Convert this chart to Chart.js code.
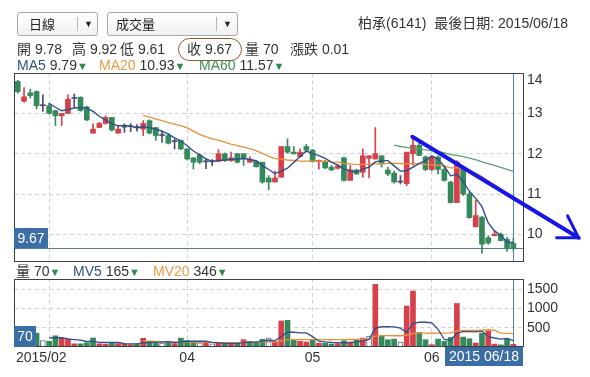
<!DOCTYPE html>
<html lang="zh-Hant">
<head>
<meta charset="utf-8">
<title>柏承(6141) 日線</title>
<script src="https://cdn.jsdelivr.net/npm/chart.js@4.4.1/dist/chart.umd.min.js"></script>
<style>
  html,body{margin:0;padding:0;background:#fff;}
  body{font-family:"Liberation Sans",Arial,"Noto Sans CJK TC",sans-serif;font-size:14px;color:#333;}
  #wrap{position:relative;width:590px;height:377px;overflow:hidden;}
  #wrap canvas{position:absolute;left:0;top:0;}
  .t{position:absolute;white-space:nowrap;line-height:16px;}
  .sel{position:absolute;top:12px;height:24px;box-sizing:border-box;border:1px solid #a8a8a8;border-radius:3px;background:linear-gradient(#ffffff,#f1f1f1);}
  .sel span{position:absolute;top:4px;font-size:13px;line-height:15px;color:#222;}
  .sel i{position:absolute;top:4px;width:1px;height:14px;background:#b5b5b5;}
  .sel b{position:absolute;top:5px;font-size:9px;line-height:12px;color:#222;font-weight:normal;}
  .ma5{color:#30557a}.ma20{color:#eb9a45}.ma60{color:#3f8f55}
  .dn{color:#2f8a4e;font-size:11px}
  #ring{position:absolute;left:178px;top:38px;width:64px;height:23px;box-sizing:border-box;border:1px solid #8a5a2c;border-radius:12px;}
</style>
</head>
<body>
<div id="wrap">
  <canvas id="priceChart" width="590" height="377"></canvas>
  <canvas id="volChart" width="590" height="377"></canvas>

  <div class="sel" style="left:17px;width:81px"><span style="left:11px">日線</span><i style="left:59px"></i><b style="left:66px">▼</b></div>
  <div class="sel" style="left:107px;width:131px"><span style="left:8px">成交量</span><i style="left:108px"></i><b style="left:115px">▼</b></div>
  <div class="t" style="left:358px;top:15px">柏承(6141)&nbsp;&nbsp;最後日期: 2015/06/18</div>

  <div id="ring"></div>
  <div class="t" style="left:17px;top:41px">開 9.78</div>
  <div class="t" style="left:72px;top:41px">高 9.92</div>
  <div class="t" style="left:120px;top:41px">低 9.61</div>
  <div class="t" style="left:187px;top:41px">收 9.67</div>
  <div class="t" style="left:245px;top:41px">量 70</div>
  <div class="t" style="left:290px;top:41px">漲跌 0.01</div>

  <div class="t" style="left:17px;top:57px"><span class="ma5">MA5</span> 9.79<span class="dn">▼</span></div>
  <div class="t" style="left:99px;top:57px"><span class="ma20">MA20</span> 10.93<span class="dn">▼</span></div>
  <div class="t" style="left:199px;top:57px"><span class="ma60">MA60</span> 11.57<span class="dn">▼</span></div>

  <div class="t" style="left:16px;top:263px">量 70<span class="dn">▼</span></div>
  <div class="t" style="left:73px;top:263px"><span class="ma5">MV5</span> 165<span class="dn">▼</span></div>
  <div class="t" style="left:153px;top:263px"><span class="ma20">MV20</span> 346<span class="dn">▼</span></div>
</div>

<script>
/* ── Datos ── */
const opens = [13.79,13.30,13.51,13.54,13.19,13.19,13.07,12.94,13.00,13.37,
               13.40,13.16,12.51,12.65,12.75,12.90,12.51,12.66,12.67,12.65,
               12.61,12.82,12.65,12.45,12.45,12.30,12.33,12.12,11.90,11.97,
               11.80,11.80,11.81,12.00,11.83,12.00,12.00,11.79,11.81,11.79,
               11.40,11.30,11.42,12.18,12.04,11.93,12.18,12.09,11.81,11.81,
               11.67,11.64,11.90,11.34,11.60,11.54,11.89,11.87,11.95,11.60,
               11.52,11.30,11.26,12.00,12.21,11.92,11.61,11.92,11.61,11.30,
               10.79,11.63,11.00,10.19,10.43,9.92,9.97,10.01,9.88,9.78];
const highs = [13.82,13.64,13.60,13.56,13.46,13.25,13.07,13.00,13.46,13.48,
               13.41,13.18,12.74,12.78,12.94,12.90,12.70,12.74,12.75,12.72,
               12.82,12.84,12.65,12.56,12.50,12.37,12.34,12.12,11.90,12.00,
               11.87,11.86,12.10,12.02,12.04,12.01,12.00,11.93,11.82,11.79,
               11.46,11.57,12.18,12.37,12.18,12.12,12.23,12.11,11.85,11.84,
               11.71,11.74,11.92,11.71,11.62,12.12,11.95,12.65,11.95,11.67,
               11.57,11.46,12.04,12.42,12.28,11.95,11.95,11.95,11.71,11.32,
               11.83,11.68,11.05,10.85,10.45,9.97,10.08,10.04,9.93,9.92];
const lows  = [13.50,13.28,13.38,13.11,13.05,12.98,12.70,12.70,13.00,13.15,
               13.05,12.82,12.51,12.65,12.73,12.56,12.51,12.53,12.55,12.56,
               12.45,12.49,12.33,12.28,12.24,12.12,12.10,11.85,11.62,11.75,
               11.63,11.70,11.80,11.81,11.81,11.77,11.71,11.79,11.67,11.27,
               11.11,11.30,11.42,12.01,11.99,11.91,12.04,11.79,11.62,11.63,
               11.58,11.62,11.32,11.34,11.49,11.42,11.40,11.87,11.67,11.46,
               11.27,11.25,11.21,11.72,11.95,11.58,11.58,11.50,11.32,10.78,
               10.79,10.97,10.40,10.19,9.54,9.76,9.97,9.84,9.58,9.61];
const closes = [13.54,13.41,13.44,13.19,13.19,13.00,12.94,13.00,13.35,13.37,
                13.07,12.84,12.61,12.75,12.90,12.59,12.61,12.66,12.67,12.65,
                12.75,12.51,12.45,12.45,12.26,12.30,12.12,11.87,11.79,11.79,
                11.80,11.80,12.00,11.83,11.90,11.79,11.90,11.87,11.68,11.30,
                11.30,11.40,12.18,12.04,12.00,12.04,12.09,11.81,11.83,11.65,
                11.60,11.70,11.34,11.60,11.50,11.95,11.95,12.00,11.75,11.50,
                11.30,11.30,12.04,12.21,11.96,11.61,11.92,11.61,11.34,10.79,
                11.80,11.00,10.42,10.47,9.76,9.79,10.01,9.85,9.66,9.67];
const volumes = [420,260,240,358,167,150,290,233,208,83,
                 83,108,233,83,80,100,90,70,60,80,
                 225,150,110,100,120,90,230,170,145,110,
                 100,80,100,90,85,110,188,145,110,200,
                 230,130,674,690,188,145,130,188,100,100,
                 80,90,162,130,188,230,282,1620,298,188,
                 205,130,1060,1450,376,188,60,205,145,248,
                 1126,256,213,102,358,418,75,55,207,70];

// eje X: índice de sesión; inicios de mes (03, 04, 05, 06)
const monthStarts = [5, 27, 47, 66];
const monthNames  = ['03', '04', '05', '06'];
const firstMonth  = '2015/02';
const lastDateLabel = '2015 06/18';
const priceTicks = [10, 11, 12, 13, 14];
const volTicks   = [500, 1000, 1500];

/* ── Helpers ── */
const RED = '#d6404b', GREEN = '#36895a', CROSS = '#4b4d6b';
const FONT = '"Liberation Sans", Arial, "Noto Sans CJK TC", sans-serif';
const lastIdx = closes.length - 1;

// promedios móviles tal como los traza el gráfico (a partir de la sesión n)
function movingAvg(src, n){
  return src.map(function(_, i){
    if(i < n) return null;
    let s = 0;
    for(let k = i - n + 1; k <= i; k++) s += src[k];
    return s / n;
  });
}
const pts = arr => arr.map((v, i) => ({x: i, y: v}));

const candleColor = closes.map((c, i) => c > opens[i] ? RED : (c < opens[i] ? GREEN : CROSS));
const volState = closes.map((c, i) => {
  const prev = i ? closes[i-1] : opens[0];
  return c > prev ? 'up' : (c < prev ? 'down' : 'flat');
});

function frame(ctx, a){
  ctx.save();
  ctx.strokeStyle = '#3a3f45'; ctx.lineWidth = 1;
  ctx.strokeRect(a.left + 0.5, a.top + 0.5, a.right - a.left - 1, a.bottom - a.top - 1);
  ctx.restore();
}
function crossV(ctx, a, x){
  const px = Math.round(x.getPixelForValue(lastIdx)) + 0.5;
  ctx.save();
  ctx.strokeStyle = '#5383a8'; ctx.lineWidth = 1;
  ctx.beginPath(); ctx.moveTo(px, a.top); ctx.lineTo(px, a.bottom); ctx.stroke();
  ctx.restore();
}
function tag(ctx, txt, left, top, w, h){
  ctx.save();
  ctx.fillStyle = '#3b6da6';
  ctx.fillRect(left, top, w, h);
  ctx.fillStyle = '#fff';
  ctx.font = '14px ' + FONT;
  ctx.textAlign = 'center'; ctx.textBaseline = 'middle';
  ctx.fillText(txt, left + w/2, top + h/2 + 1);
  ctx.restore();
}

/* ── Plugins ── */
const pricePane = {
  id: 'pricePane',
  beforeDatasetsDraw(chart){
    const {ctx, chartArea: a, scales: {x, y}} = chart;
    const py = Math.round(y.getPixelForValue(closes[lastIdx])) + 0.5;
    ctx.save();
    ctx.strokeStyle = '#4f7ea5'; ctx.lineWidth = 1;
    ctx.beginPath(); ctx.moveTo(a.left, py); ctx.lineTo(a.right, py); ctx.stroke();
    ctx.restore();
    crossV(ctx, a, x);
  },
  afterDraw(chart){
    const {ctx, chartArea: a, scales: {x, y}} = chart;
    frame(ctx, a);
    const py = Math.round(y.getPixelForValue(closes[lastIdx]));
    tag(ctx, closes[lastIdx].toFixed(2), a.left, py - 20, 34, 20);

    // etiqueta superior del eje (ajustada dentro del panel)
    ctx.save();
    ctx.fillStyle = '#333'; ctx.font = '14px ' + FONT;
    ctx.textAlign = 'left'; ctx.textBaseline = 'middle';
    ctx.fillText(String(priceTicks[priceTicks.length-1]), a.right + 3, a.top + 7);
    ctx.restore();

    // flecha de tendencia dibujada a mano
    const x0 = x.getPixelForValue(62.9), y0 = y.getPixelForValue(12.42);
    const x1 = x.getPixelForValue(89.4), y1 = y.getPixelForValue(9.92);
    ctx.save();
    ctx.strokeStyle = '#1616e6'; ctx.lineCap = 'round';
    ctx.lineWidth = 4;
    ctx.beginPath(); ctx.moveTo(x0, y0); ctx.lineTo(x1, y1); ctx.stroke();
    ctx.lineWidth = 3;
    ctx.beginPath();
    ctx.moveTo(x1 - 11, y1 - 22); ctx.lineTo(x1, y1); ctx.lineTo(x1 - 22, y1);
    ctx.stroke();
    ctx.restore();
  }
};

const volPane = {
  id: 'volPane',
  beforeDatasetsDraw(chart){
    crossV(chart.ctx, chart.chartArea, chart.scales.x);
  },
  afterDraw(chart){
    const {ctx, chartArea: a, scales: {x}} = chart;
    frame(ctx, a);
    tag(ctx, String(volumes[lastIdx]), a.left, a.bottom - 21, 22, 21);

    // etiquetas de meses
    ctx.save();
    ctx.fillStyle = '#333'; ctx.font = '14px ' + FONT;
    ctx.textBaseline = 'middle';
    const ly = a.bottom + 11;
    ctx.textAlign = 'left';
    ctx.fillText(firstMonth, a.left + 2, ly);
    const firstRight = a.left + 2 + ctx.measureText(firstMonth).width;
    ctx.textAlign = 'center';
    monthStarts.forEach(function(v, k){
      const px = x.getPixelForValue(v);
      const w = ctx.measureText(monthNames[k]).width;
      if(px - w/2 > firstRight + 4) ctx.fillText(monthNames[k], px, ly);
    });
    ctx.restore();

    // fecha de la última sesión
    const cx = x.getPixelForValue(lastIdx), bw = 78;
    const left = Math.min(cx - bw/2, a.right - 1 - bw);
    tag(ctx, lastDateLabel, left, a.bottom, bw, 19);
  }
};

/* ── Config común ── */
Chart.defaults.font.family = FONT;
function xScale(){
  return {
    type: 'linear', min: -0.6, max: 80.7, offset: false,
    afterBuildTicks: s => { s.ticks = monthStarts.map(v => ({value: v})); },
    afterFit: s => { s.height = 0; },
    ticks: {display: false},
    grid: {color: '#d2d2d2', drawTicks: false, offset: false},
    border: {display: false, dash: [4, 3]}
  };
}
function yScale(min, max, ticks, hideTop){
  return {
    position: 'right', min: min, max: max,
    afterBuildTicks: s => { s.ticks = ticks.map(v => ({value: v})); },
    afterFit: s => { s.width = 44; },
    ticks: {
      color: '#333', font: {size: 14}, padding: 3,
      callback: v => (hideTop && v === ticks[ticks.length-1]) ? '' : String(v)
    },
    grid: {color: '#d2d2d2', drawTicks: false},
    border: {display: false, dash: [4, 3]}
  };
}
const baseOpts = {
  responsive: false, animation: false, events: [],
  plugins: {legend: {display: false}, tooltip: {enabled: false}}
};

/* ── Precio ── */
new Chart(document.getElementById('priceChart'), {
  type: 'bar',
  data: {
    datasets: [
      {type: 'line', data: pts(movingAvg(closes, 5)),  borderColor: '#2d4f8c', borderWidth: 1.4, pointRadius: 0, order: 0},
      {type: 'line', data: pts(movingAvg(closes, 20)), borderColor: '#e8913a', borderWidth: 1.3, pointRadius: 0, order: 0},
      {type: 'line', data: pts(movingAvg(closes, 60)), borderColor: '#5f9c70', borderWidth: 1.3, pointRadius: 0, order: 0},
      {data: opens.map((o, i) => ({x: i, y: [o, closes[i]]})), backgroundColor: candleColor,
       barThickness: 5, minBarLength: 1, grouped: false, order: 1},
      {data: lows.map((l, i) => ({x: i, y: [l, highs[i]]})), backgroundColor: candleColor,
       barThickness: 1, grouped: false, order: 2}
    ]
  },
  options: Object.assign({}, baseOpts, {
    layout: {padding: {left: 14, right: 22, top: 73, bottom: 115}},
    scales: {x: xScale(), y: yScale(9.32, 14, priceTicks, true)}
  }),
  plugins: [pricePane]
});

/* ── Volumen ── */
new Chart(document.getElementById('volChart'), {
  type: 'bar',
  data: {
    datasets: [
      {type: 'line', data: pts(movingAvg(volumes, 5)),  borderColor: '#2d4f8c', borderWidth: 1.3, pointRadius: 0, order: 0},
      {type: 'line', data: pts(movingAvg(volumes, 20)), borderColor: '#e8913a', borderWidth: 1.3, pointRadius: 0, order: 0},
      {data: pts(volumes),
       backgroundColor: volState.map(s => s === 'up' ? RED : (s === 'down' ? GREEN : '#ffffff')),
       borderColor: volState.map(s => s === 'flat' ? '#5d6a8c' : 'rgba(0,0,0,0)'),
       borderWidth: volState.map(s => s === 'flat' ? 1 : 0),
       barThickness: 5, grouped: false, order: 1}
    ]
  },
  options: Object.assign({}, baseOpts, {
    layout: {padding: {left: 14, right: 22, top: 279, bottom: 30}},
    scales: {x: xScale(), y: yScale(0, 1760, volTicks, false)}
  }),
  plugins: [volPane]
});
</script>
</body>
</html>
